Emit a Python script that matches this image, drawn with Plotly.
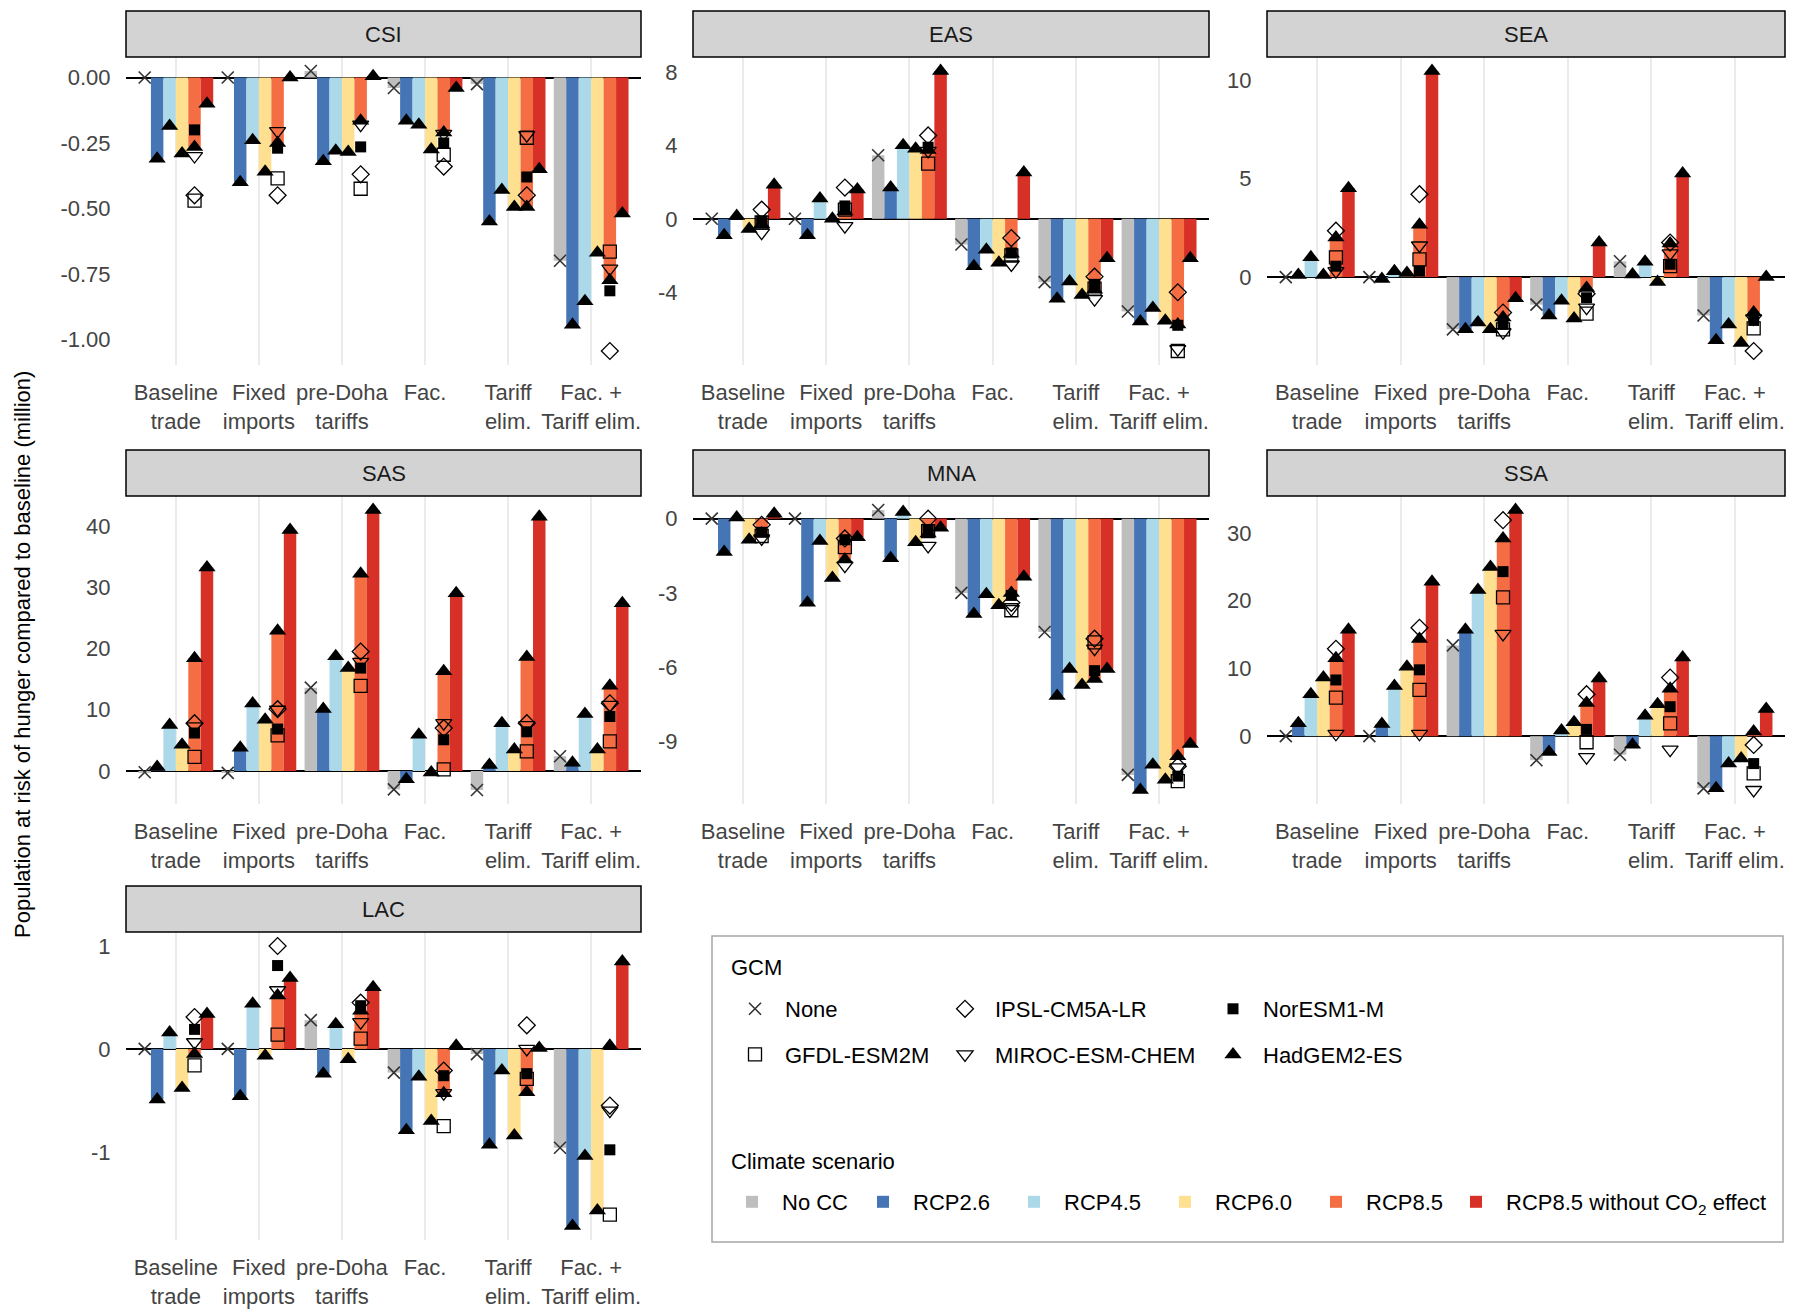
import plotly.graph_objects as go

# ---------------- data ----------------
TRADE_LABELS = ["Baseline<br>trade", "Fixed<br>imports", "pre-Doha<br>tariffs",
                "Fac.", "Tariff<br>elim.", "Fac. +<br>Tariff elim."]
SCENARIOS = ["No CC", "RCP2.6", "RCP4.5", "RCP6.0", "RCP8.5",
             "RCP8.5 without CO<sub>2</sub> effect"]
REGIONS = ["CSI", "EAS", "SEA", "SAS", "MNA", "SSA", "LAC"]

# No CC (GCM "None"), one value per trade scenario
# HADGEM rows: RCP2.6, RCP4.5, RCP6.0, RCP8.5, RCP8.5 without CO2 effect
# GFDL / IPSL / MIROC / NORESM: RCP8.5 only
CSI_NONE = [0.0, 0.0, 0.025, -0.04, -0.025, -0.70]
CSI_HADGEM = [[-0.31, -0.40, -0.32, -0.165, -0.55, -0.945],
              [-0.185, -0.24, -0.28, -0.18, -0.43, -0.855],
              [-0.29, -0.36, -0.285, -0.275, -0.495, -0.67],
              [-0.265, -0.25, -0.165, -0.21, -0.495, -0.775],
              [-0.10, 0.0, 0.005, -0.04, -0.35, -0.52]]
CSI_GFDL = [-0.47, -0.385, -0.425, -0.295, -0.23, -0.665]
CSI_IPSL = [-0.45, -0.45, -0.37, -0.34, -0.45, -1.045]
CSI_MIROC = [-0.30, -0.205, -0.18, -0.215, -0.22, -0.73]
CSI_NORESM = [-0.20, -0.27, -0.265, -0.25, -0.38, -0.815]

EAS_NONE = [0.0, 0.0, 3.46, -1.4, -3.45, -5.05]
EAS_HADGEM = [[-0.9, -0.9, 1.71, -2.58, -4.35, -5.6],
              [0.15, 1.1, 4.0, -1.68, -3.42, -4.86],
              [-0.55, 0.0, 3.82, -2.4, -4.15, -5.55],
              [-0.3, 0.4, 3.75, -1.9, -3.87, -5.75],
              [1.85, 1.6, 8.05, 2.52, -2.15, -2.15]]
EAS_GFDL = [-0.2, 0.5, 3.0, -2.0, -3.8, -7.2]
EAS_IPSL = [0.5, 1.7, 4.54, -1.05, -3.15, -4.0]
EAS_MIROC = [-0.75, -0.4, 3.7, -2.49, -4.38, -7.1]
EAS_NORESM = [-0.13, 0.7, 3.9, -1.86, -3.57, -5.8]

SEA_NONE = [0.0, 0.0, -2.65, -1.4, 0.8, -1.95]
SEA_HADGEM = [[0.1, -0.1, -2.65, -1.95, 0.13, -3.2],
              [1.0, 0.3, -2.3, -1.2, 0.77, -2.4],
              [0.1, 0.2, -2.65, -2.1, -0.25, -3.35],
              [2.0, 2.65, -2.05, -0.55, 1.7, -1.8],
              [4.5, 10.45, -1.07, 1.75, 5.25, 0.0]]
SEA_GFDL = [1.0, 0.9, -2.65, -1.85, 0.55, -2.6]
SEA_IPSL = [2.35, 4.2, -1.8, -0.85, 1.75, -3.75]
SEA_MIROC = [0.3, 1.6, -2.8, -1.55, 1.2, -2.1]
SEA_NORESM = [0.55, 0.3, -2.4, -1.05, 0.65, -2.2]

SAS_NONE = [-0.2, -0.3, 13.6, -3.0, -3.1, 2.4]
SAS_HADGEM = [[0.65, 3.8, 10.1, -1.35, 1.0, 1.35],
              [7.5, 11.0, 18.75, 5.9, 7.8, 9.3],
              [4.3, 8.35, 16.8, -0.25, 3.5, 3.5],
              [18.4, 22.9, 32.2, 16.3, 18.6, 13.9],
              [33.2, 39.35, 42.6, 29.0, 41.5, 27.4]]
SAS_GFDL = [2.3, 5.8, 13.9, 0.25, 3.2, 4.85]
SAS_IPSL = [7.8, 10.1, 19.5, 7.0, 7.8, 11.05]
SAS_MIROC = [7.3, 10.0, 17.8, 7.8, 7.5, 10.8]
SAS_NORESM = [6.2, 6.85, 16.8, 5.1, 6.4, 8.9]

MNA_NONE = [0.0, 0.0, 0.35, -3.0, -4.58, -10.35]
MNA_HADGEM = [[-1.35, -3.4, -1.6, -3.85, -7.16, -10.96],
              [0.05, -0.9, 0.27, -3.05, -6.07, -9.94],
              [-0.85, -2.4, -0.95, -3.5, -6.72, -10.55],
              [-0.6, -1.65, -0.6, -3.0, -6.48, -9.6],
              [0.2, -0.75, -0.37, -2.35, -6.07, -9.1]]
MNA_GFDL = [-0.7, -1.15, -0.5, -3.7, -5.0, -10.6]
MNA_IPSL = [-0.25, -0.8, 0.0, -3.4, -4.85, -10.0]
MNA_MIROC = [-0.8, -1.9, -1.1, -3.65, -5.25, -10.05]
MNA_NORESM = [-0.55, -0.85, -0.45, -3.1, -6.14, -10.4]

SSA_NONE = [0.0, 0.0, 13.4, -3.55, -2.75, -7.7]
SSA_HADGEM = [[1.9, 1.8, 15.7, -2.35, -1.25, -7.7],
              [6.2, 7.4, 21.6, 0.85, 3.0, -4.05],
              [8.65, 10.25, 25.0, 2.05, 4.7, -3.3],
              [11.5, 14.35, 29.2, 4.9, 7.0, 0.7],
              [15.7, 22.8, 33.4, 8.5, 11.6, 4.0]]
SSA_GFDL = [5.7, 6.85, 20.5, -0.9, 1.9, -5.5]
SSA_IPSL = [12.9, 16.0, 31.9, 6.2, 8.65, -1.3]
SSA_MIROC = [0.35, 0.35, 15.1, -3.1, -2.0, -7.95]
SSA_NORESM = [8.3, 9.8, 24.3, 1.0, 4.35, -4.05]

LAC_NONE = [0.0, 0.0, 0.28, -0.23, -0.05, -0.96]
LAC_HADGEM = [[-0.49, -0.46, -0.24, -0.79, -0.93, -1.72],
              [0.16, 0.44, 0.24, -0.27, -0.21, -1.04],
              [-0.38, -0.065, -0.1, -0.70, -0.84, -1.57],
              [-0.05, 0.52, 0.37, -0.43, -0.42, 0.03],
              [0.34, 0.69, 0.6, 0.03, 0.01, 0.85]]
LAC_GFDL = [-0.16, 0.14, 0.10, -0.75, -0.29, -1.61]
LAC_IPSL = [0.31, 1.0, 0.45, -0.21, 0.23, -0.55]
LAC_MIROC = [0.065, 0.57, 0.26, -0.43, 0.0, -0.6]
LAC_NORESM = [0.19, 0.81, 0.42, -0.26, -0.24, -0.98]

CSI_TICKS = [-1.0, -0.75, -0.5, -0.25, 0.0]
CSI_TICKTEXT = ["-1.00", "-0.75", "-0.50", "-0.25", "0.00"]
EAS_TICKS = [-4, 0, 4, 8]
SEA_TICKS = [0, 5, 10]
SAS_TICKS = [0, 10, 20, 30, 40]
MNA_TICKS = [-9, -6, -3, 0]
SSA_TICKS = [0, 10, 20, 30]
LAC_TICKS = [-1, 0, 1]

# ---------------- assembly ----------------
REGION_DATA = {
    "CSI": (CSI_NONE, CSI_HADGEM, CSI_GFDL, CSI_IPSL, CSI_MIROC, CSI_NORESM, CSI_TICKS, CSI_TICKTEXT),
    "EAS": (EAS_NONE, EAS_HADGEM, EAS_GFDL, EAS_IPSL, EAS_MIROC, EAS_NORESM, EAS_TICKS, None),
    "SEA": (SEA_NONE, SEA_HADGEM, SEA_GFDL, SEA_IPSL, SEA_MIROC, SEA_NORESM, SEA_TICKS, None),
    "SAS": (SAS_NONE, SAS_HADGEM, SAS_GFDL, SAS_IPSL, SAS_MIROC, SAS_NORESM, SAS_TICKS, None),
    "MNA": (MNA_NONE, MNA_HADGEM, MNA_GFDL, MNA_IPSL, MNA_MIROC, MNA_NORESM, MNA_TICKS, None),
    "SSA": (SSA_NONE, SSA_HADGEM, SSA_GFDL, SSA_IPSL, SSA_MIROC, SSA_NORESM, SSA_TICKS, None),
    "LAC": (LAC_NONE, LAC_HADGEM, LAC_GFDL, LAC_IPSL, LAC_MIROC, LAC_NORESM, LAC_TICKS, None),
}

SCEN_COLORS = ["#BEBEBE", "#4575B4", "#ABD9E9", "#FEE090", "#F46D43", "#D73027"]
FONT = "Liberation Sans, Arial, sans-serif"
FS = 22
TICK_COLOR = "#444444"
W, H = 1800, 1316
OFF = 8  # page body margin
COL_X = [(126, 641), (693, 1209), (1267, 1785)]
ROW_Y = [(57, 365), (496, 804), (932, 1240)]
STRIP_H = 46
DODGE = 0.9
NS = len(SCENARIOS)
BAR_W = DODGE / NS


def px_x(v):
    return (v - OFF) / W


def px_y(v):
    return 1 - (v - OFF) / H


GCM_STYLE = {
    "None": dict(symbol="x-thin", size=12, color="#333333", line=dict(width=1.6, color="#333333")),
    "GFDL-ESM2M": dict(symbol="square-open", size=13, color="black", line=dict(width=1.3)),
    "IPSL-CM5A-LR": dict(symbol="diamond-open", size=13, color="black", line=dict(width=1.3)),
    "MIROC-ESM-CHEM": dict(symbol="triangle-down-open", size=14, color="black", line=dict(width=1.3)),
    "NorESM1-M": dict(symbol="square", size=11, color="black", line=dict(width=0)),
    "HadGEM2-ES": dict(symbol="triangle-up", size=15, color="black", line=dict(width=0)),
}
GCM_LEGEND = {"None": ("legend", 1), "GFDL-ESM2M": ("legend", 2),
              "IPSL-CM5A-LR": ("legend2", 3), "MIROC-ESM-CHEM": ("legend2", 4),
              "NorESM1-M": ("legend3", 5), "HadGEM2-ES": ("legend3", 6)}
SCEN_LEGEND_X = [722, 853, 1004, 1155, 1306, 1446]


def xpos(scen_idx):
    return [g + (scen_idx - (NS - 1) / 2) * BAR_W for g in range(len(TRADE_LABELS))]


fig = go.Figure()
shapes, annotations = [], []
layout = {}

for k, reg in enumerate(REGIONS):
    none, had, gfdl, ipsl, miroc, noresm, ticks, ticktext = REGION_DATA[reg]
    r, c = divmod(k, 3)
    sfx = "" if k == 0 else str(k + 1)
    xa, ya = "x" + sfx, "y" + sfx
    first = k == 0

    bar_vals = [none] + had
    for j in range(NS):
        fig.add_trace(go.Bar(
            x=xpos(j), y=bar_vals[j], width=BAR_W, xaxis=xa, yaxis=ya,
            marker=dict(color=SCEN_COLORS[j], line=dict(width=0)),
            name=SCENARIOS[j], legend="legend" + str(4 + j), showlegend=first,
            legendgroup="scen" + str(j)))

    pts = [
        ("GFDL-ESM2M", xpos(4), gfdl),
        ("IPSL-CM5A-LR", xpos(4), ipsl),
        ("MIROC-ESM-CHEM", xpos(4), miroc),
        ("NorESM1-M", xpos(4), noresm),
        ("HadGEM2-ES", sum([xpos(j) for j in range(1, NS)], []), sum(had, [])),
        ("None", xpos(0), none),
    ]
    for name, xs, ys in pts:
        lg, rank = GCM_LEGEND[name]
        fig.add_trace(go.Scatter(
            x=xs, y=ys, mode="markers", xaxis=xa, yaxis=ya,
            marker=GCM_STYLE[name], name=name, showlegend=first,
            legend=lg, legendrank=rank, legendgroup="gcm" + name))

    allv = none + sum(had, []) + gfdl + ipsl + miroc + noresm + [0.0]
    lo, hi = min(allv), max(allv)
    pad = 0.05 * (hi - lo)
    x0, x1 = COL_X[c]
    y0, y1 = ROW_Y[r]
    if ticktext is None:
        ticktext = [str(t) for t in ticks]
    layout["xaxis" + sfx] = dict(
        domain=[px_x(x0), px_x(x1)], anchor=ya, range=[-0.6, len(TRADE_LABELS) - 0.4],
        tickvals=list(range(len(TRADE_LABELS))), ticktext=TRADE_LABELS, tickangle=0,
        showgrid=True, gridcolor="#EBEBEB", gridwidth=1.5, zeroline=False,
        ticks="outside", ticklen=8, tickcolor="rgba(0,0,0,0)",
        tickfont=dict(size=FS, color=TICK_COLOR, family=FONT), showline=False,
        fixedrange=True)
    layout["yaxis" + sfx] = dict(
        domain=[px_y(y1), px_y(y0)], anchor=xa, range=[lo - pad, hi + pad],
        tickvals=ticks, ticktext=ticktext, showgrid=False,
        zeroline=True, zerolinecolor="black", zerolinewidth=2,
        ticks="outside", ticklen=10, tickcolor="rgba(0,0,0,0)",
        tickfont=dict(size=FS, color=TICK_COLOR, family=FONT), showline=False,
        fixedrange=True)
    ph = y1 - y0
    shapes.append(dict(type="rect", xref=xa + " domain", yref=ya + " domain",
                       x0=0, x1=1, y0=1, y1=1 + STRIP_H / ph,
                       fillcolor="#D3D3D3", line=dict(color="black", width=1.5)))
    annotations.append(dict(text=reg, xref=xa + " domain", yref=ya + " domain",
                            x=0.5, y=1 + STRIP_H / 2 / ph, showarrow=False,
                            xanchor="center", yanchor="middle",
                            font=dict(size=FS, color="#1A1A1A", family=FONT)))

# legend box and titles
shapes.append(dict(type="rect", xref="paper", yref="paper",
                   x0=px_x(712), x1=px_x(1783), y0=px_y(1242), y1=px_y(936),
                   line=dict(color="#A6A6A6", width=1.5), fillcolor="rgba(0,0,0,0)"))
annotations.append(dict(text="GCM", xref="paper", yref="paper", x=px_x(729), y=px_y(967),
                        xanchor="left", yanchor="middle", showarrow=False,
                        font=dict(size=FS, color="black", family=FONT)))
annotations.append(dict(text="Climate scenario", xref="paper", yref="paper",
                        x=px_x(729), y=px_y(1161), xanchor="left", yanchor="middle",
                        showarrow=False, font=dict(size=FS, color="black", family=FONT)))
annotations.append(dict(text="Population at risk of hunger compared to baseline (million)",
                        xref="paper", yref="paper", x=px_x(22), y=px_y(655),
                        textangle=-90, showarrow=False, xanchor="center", yanchor="middle",
                        font=dict(size=FS, color="black", family=FONT)))

leg_common = dict(orientation="v", bgcolor="rgba(0,0,0,0)", borderwidth=0,
                  font=dict(size=FS, color="black", family=FONT),
                  traceorder="grouped", tracegroupgap=14, itemwidth=50,
                  yanchor="top", xanchor="left", itemclick=False, itemdoubleclick=False)
layout["legend"] = dict(leg_common, x=px_x(725), y=px_y(988))
layout["legend2"] = dict(leg_common, x=px_x(935), y=px_y(988))
layout["legend3"] = dict(leg_common, x=px_x(1203), y=px_y(988))
for j in range(NS):
    layout["legend" + str(4 + j)] = dict(
        orientation="h", bgcolor="rgba(0,0,0,0)", borderwidth=0,
        font=dict(size=FS, color="black", family=FONT), itemwidth=50,
        yanchor="top", xanchor="left", x=px_x(SCEN_LEGEND_X[j]), y=px_y(1181),
        itemclick=False, itemdoubleclick=False)

fig.update_layout(
    width=W, height=H, margin=dict(l=0, r=0, t=0, b=0),
    paper_bgcolor="white", plot_bgcolor="white",
    barmode="overlay", shapes=shapes, annotations=annotations,
    font=dict(family=FONT, size=FS), **layout)

fig.write_html("out.html")
